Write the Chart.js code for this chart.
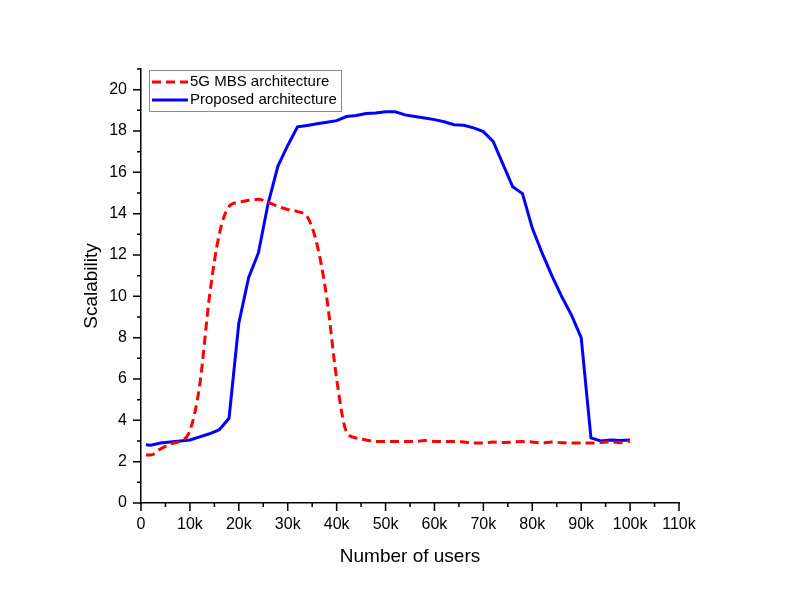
<!DOCTYPE html>
<html>
<head>
<meta charset="utf-8">
<script src="https://cdn.jsdelivr.net/npm/chart.js@4.4.0/dist/chart.umd.min.js"></script>
<style>
  html, body { margin: 0; padding: 0; background: #fff; }
  #wrap { width: 789px; height: 604px; }
</style>
</head>
<body>
<div id="wrap"><canvas id="scal"></canvas></div>
<script>
// number of users (x values)
const users = [1000, 2000, 4000, 6000, 8000, 10000, 12000, 14000, 16000, 18000,
  20000, 22000, 24000, 26000, 28000, 30000, 32000, 34000, 36000, 38000,
  40000, 42000, 44000, 46000, 48000, 50000, 52000, 54000, 56000, 58000,
  60000, 62000, 64000, 66000, 68000, 70000, 72000, 74000, 76000, 78000,
  80000, 82000, 84000, 86000, 88000, 90000, 92000, 94000, 96000, 98000, 100000];

// 5G MBS architecture
const mbsValues = [2.32, 2.32, 2.62, 2.85, 3.0, 3.5, 5.7, 10.0, 13.0, 14.35,
  14.55, 14.65, 14.7, 14.55, 14.35, 14.2, 14.1, 13.85, 12.5, 9.9,
  6.0, 3.45, 3.15, 3.05, 2.98, 2.97, 2.97, 2.98, 2.98, 3.02,
  2.98, 2.98, 2.97, 2.95, 2.9, 2.9, 2.95, 2.93, 2.95, 2.97,
  2.95, 2.9, 2.95, 2.92, 2.9, 2.9, 2.9, 2.93, 2.95, 2.92, 3.0];

// Proposed architecture
const proposedValues = [2.82, 2.8, 2.9, 2.95, 3.0, 3.05, 3.2, 3.35, 3.55, 4.1,
  8.7, 10.9, 12.1, 14.5, 16.3, 17.3, 18.2, 18.27, 18.35, 18.42,
  18.5, 18.7, 18.75, 18.85, 18.87, 18.93, 18.93, 18.78, 18.7, 18.63,
  18.55, 18.45, 18.3, 18.28, 18.15, 17.97, 17.5, 16.4, 15.3, 14.97,
  13.3, 12.1, 11.0, 10.0, 9.1, 8.0, 3.15, 3.0, 3.05, 3.03, 3.05];

const seriesNames = ["5G MBS architecture", "Proposed architecture"];

const fontFamily = "'Liberation Sans', Arial, sans-serif";

function toPoints(xs, ys) {
  return xs.map((x, i) => ({ x: x, y: ys[i] }));
}

// outward tick marks: long for labelled ticks, short for the rest
const tickMarks = {
  id: "tickMarks",
  afterDraw(chart) {
    const ctx = chart.ctx;
    const xs = chart.scales.x;
    const ys = chart.scales.y;
    ctx.save();
    ctx.strokeStyle = "#000";
    ctx.lineWidth = 1.5;
    ctx.beginPath();
    for (const t of xs.ticks) {
      const px = xs.getPixelForValue(t.value);
      const len = t.value % 10000 === 0 ? 8 : 4;
      ctx.moveTo(px, ys.bottom);
      ctx.lineTo(px, ys.bottom + len);
    }
    for (const t of ys.ticks) {
      const py = ys.getPixelForValue(t.value);
      const len = t.value % 2 === 0 ? 8 : 4;
      ctx.moveTo(xs.left, py);
      ctx.lineTo(xs.left - len, py);
    }
    ctx.stroke();
    ctx.restore();
  }
};

// boxed legend inside the top-left corner of the plot
const boxLegend = {
  id: "boxLegend",
  afterDraw(chart) {
    const ctx = chart.ctx;
    const area = chart.chartArea;
    const x0 = area.left + 8;
    const y0 = area.top + 1;
    const w = 192;
    const h = 41;
    ctx.save();
    ctx.fillStyle = "#fff";
    ctx.fillRect(x0, y0, w, h);
    ctx.strokeStyle = "#8c8c8c";
    ctx.lineWidth = 1;
    ctx.strokeRect(x0 + 0.5, y0 + 0.5, w, h);
    ctx.font = "15px " + fontFamily;
    ctx.textBaseline = "middle";
    chart.data.datasets.forEach((ds, i) => {
      const ry = y0 + 12 + i * 18;
      ctx.beginPath();
      ctx.strokeStyle = ds.borderColor;
      ctx.lineWidth = ds.borderWidth;
      ctx.setLineDash(ds.borderDash || []);
      ctx.moveTo(x0 + 3, ry);
      ctx.lineTo(x0 + 39, ry);
      ctx.stroke();
      ctx.setLineDash([]);
      ctx.fillStyle = "#000";
      ctx.fillText(ds.label, x0 + 41, ry);
    });
    ctx.restore();
  }
};

const ctx = document.getElementById("scal");

const scalChart = new Chart(ctx, {
  type: "line",
  data: {
    datasets: [
      {
        label: seriesNames[0],
        data: toPoints(users, mbsValues),
        borderColor: "#ff0000",
        borderWidth: 3,
        borderDash: [9, 5],
        cubicInterpolationMode: "monotone",
        pointRadius: 0,
        fill: false
      },
      {
        label: seriesNames[1],
        data: toPoints(users, proposedValues),
        borderColor: "#0000ff",
        borderWidth: 3,
        tension: 0,
        pointRadius: 0,
        fill: false
      }
    ]
  },
  options: {
    responsive: true,
    maintainAspectRatio: false,
    animation: false,
    layout: { padding: { top: 69, right: 110, left: 0, bottom: 0 } },
    plugins: {
      legend: { display: false },
      tooltip: { enabled: false }
    },
    scales: {
      x: {
        type: "linear",
        min: 0,
        max: 110000,
        afterFit: function(scale) { scale.height = 101; },
        grid: { display: false, drawTicks: false },
        border: { display: true, color: "#000", width: 1.5 },
        ticks: {
          stepSize: 5000,
          autoSkip: false,
          maxRotation: 0,
          padding: 12,
          color: "#000",
          font: { family: fontFamily, size: 16 },
          callback: function(v) {
            if (v % 10000 !== 0) return "";
            return v === 0 ? "0" : (v / 1000) + "k";
          }
        },
        title: {
          display: true,
          text: "Number of users",
          color: "#000",
          font: { family: fontFamily, size: 19 },
          padding: { top: 0, bottom: 36 }
        }
      },
      y: {
        min: 0,
        max: 21,
        afterFit: function(scale) { scale.width = 141; },
        grid: { display: false, drawTicks: false },
        border: { display: true, color: "#000", width: 1.5 },
        ticks: {
          stepSize: 1,
          autoSkip: false,
          padding: 14,
          color: "#000",
          font: { family: fontFamily, size: 16 },
          callback: function(v) {
            return v % 2 === 0 ? String(v) : "";
          }
        },
        title: {
          display: true,
          text: "Scalability",
          color: "#000",
          font: { family: fontFamily, size: 19 },
          padding: { top: 80, bottom: 0 }
        }
      }
    }
  },
  plugins: [tickMarks, boxLegend]
});
</script>
</body>
</html>
